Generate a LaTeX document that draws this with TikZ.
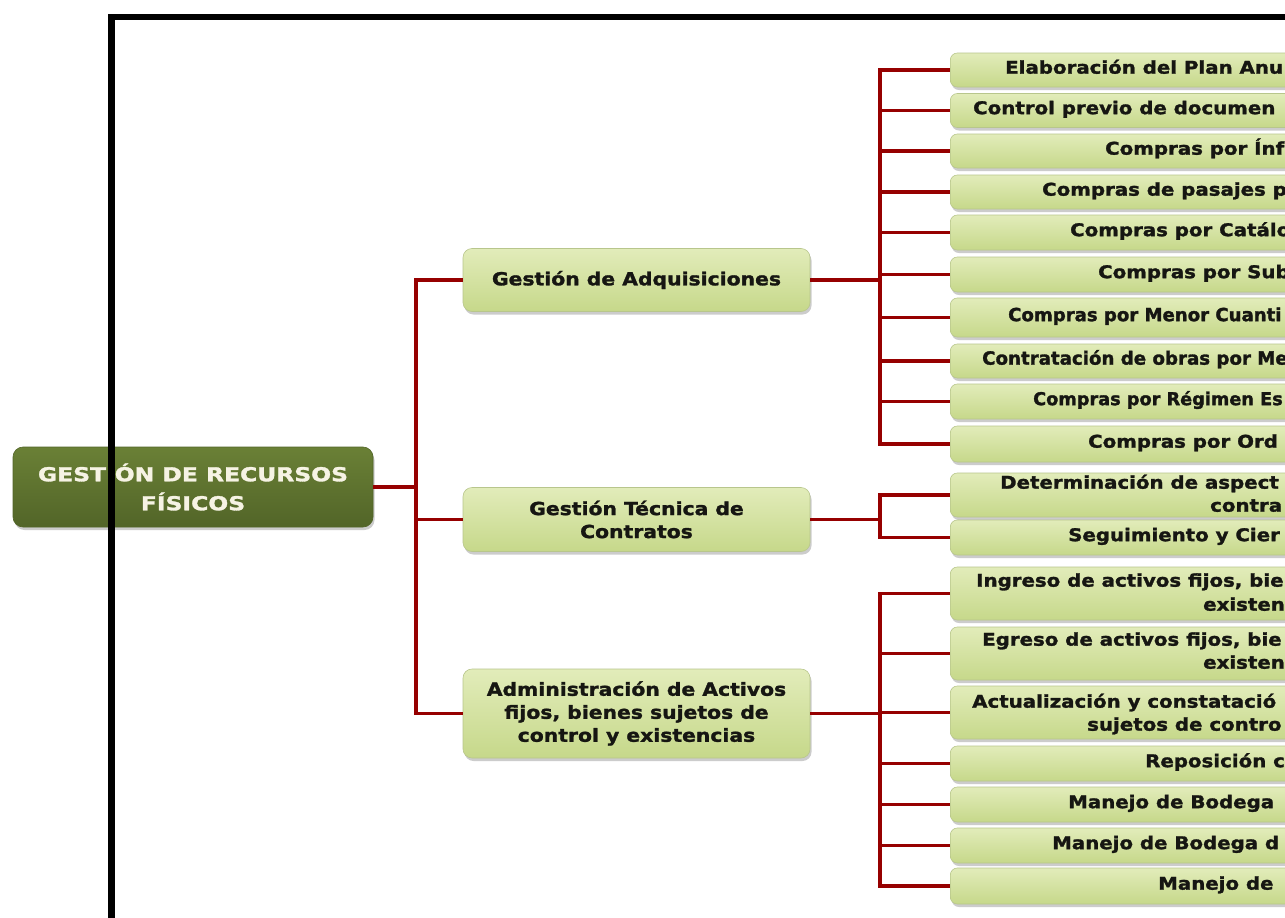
\documentclass[tikz,border=0pt]{standalone}
\usepackage{fontspec}
\setmainfont{DejaVu Sans}[FakeStretch=1.13, BoldFeatures={FakeBold=1.6}]
\newfontfamily\rootfont{DejaVu Sans}[FakeStretch=1.22, BoldFeatures={FakeBold=1.6}]
\newfontfamily\tightfont{DejaVu Sans}[FakeStretch=1.0, BoldFeatures={FakeBold=1.6}]
\usetikzlibrary{shadows}

\definecolor{linkred}{RGB}{150,0,0}
\definecolor{leaftop}{RGB}{226,236,186}
\definecolor{leafbot}{RGB}{198,216,138}
\definecolor{leafedge}{RGB}{184,198,140}
\definecolor{roottop}{RGB}{106,128,54}
\definecolor{rootbot}{RGB}{82,101,40}
\definecolor{rootink}{RGB}{246,243,228}
\definecolor{ink}{RGB}{22,22,18}

\begin{document}
\begin{tikzpicture}[x=1pt,y=-1pt,
  card/.style={rounded corners=7pt, top color=leaftop, bottom color=leafbot,
    draw=leafedge, line width=.6pt, inner sep=0pt,
    drop shadow={shadow xshift=1.5pt, shadow yshift=-3pt, opacity=.4}},
  rootcard/.style={card, rounded corners=10pt, top color=roottop, bottom color=rootbot,
    draw=rootbot, text=rootink, align=center,
    font=\rootfont\fontsize{19.2}{29}\selectfont\bfseries},
  areacard/.style={card, rounded corners=9pt, minimum width=347pt, text=ink,
    align=center, font=\fontsize{18}{23}\selectfont\bfseries},
  leaf/.style={card, anchor=west, minimum width=460pt},
  leaftext/.style={anchor=west, inner sep=0pt, text height=.73em, text depth=0pt,
    text=ink, font=\fontsize{17.5}{23}\selectfont\bfseries},
  tighttext/.style={leaftext, font=\tightfont\fontsize{#1}{23}\selectfont\bfseries},
  link/.style={draw=linkred, line width=3.4pt},
  bus/.style={link, line cap=rect},
  frameline/.style={draw=black, line width=6.5pt, line join=miter}
]
\path[use as bounding box] (0,0) rectangle (1285,918);
\clip (0,0) rectangle (1285,918);
\fill[white] (0,0) rectangle (1285,918);

% ---------- root and the three areas ----------
\node[rootcard, minimum width=360pt, minimum height=80pt] (root) at (193,487)
  {GESTIÓN DE RECURSOS\\FÍSICOS};

\node[areacard, minimum height=63pt] (adq) at (636.5,280) {Gestión de Adquisiciones};
\node[areacard, minimum height=64pt] (tec) at (636.5,519.5) {Gestión Técnica de\\Contratos};
\node[areacard, minimum height=89pt] (act) at (636.5,713.5)
  {Administración de Activos\\fijos, bienes sujetos de\\control y existencias};

% ---------- procedures: Gestión de Adquisiciones ----------
\node[leaf, minimum height=34pt] (k1)  at (950,70)    {};
\node[leaf, minimum height=34pt] (k2)  at (950,110.5) {};
\node[leaf, minimum height=34pt] (k3)  at (950,151)   {};
\node[leaf, minimum height=34pt] (k4)  at (950,192)   {};
\node[leaf, minimum height=35pt] (k5)  at (950,232.5) {};
\node[leaf, minimum height=35pt] (k6)  at (950,274.5) {};
\node[leaf, minimum height=39pt] (k7)  at (950,317.5) {};
\node[leaf, minimum height=34pt] (k8)  at (950,361)   {};
\node[leaf, minimum height=35pt] (k9)  at (950,401.5) {};
\node[leaf, minimum height=36pt] (k10) at (950,444)   {};
% ---------- procedures: Gestión Técnica de Contratos ----------
\node[leaf, minimum height=44pt] (k11) at (950,495)   {};
\node[leaf, minimum height=35pt] (k12) at (950,537.5) {};
% ---------- procedures: Administración de Activos ----------
\node[leaf, minimum height=53pt] (k13) at (950,593.5) {};
\node[leaf, minimum height=53pt] (k14) at (950,653.5) {};
\node[leaf, minimum height=53pt] (k15) at (950,712.5) {};
\node[leaf, minimum height=35pt] (k16) at (950,763.5) {};
\node[leaf, minimum height=35pt] (k17) at (950,804.5) {};
\node[leaf, minimum height=35pt] (k18) at (950,845.5) {};
\node[leaf, minimum height=36pt] (k19) at (950,886)   {};

% ---------- procedure titles ----------
\node[leaftext] (t1)  at (1005,70)    {Elaboración del Plan Anu};
\node[leaftext] (t2)  at (973,110.5)  {Control previo de documen};
\node[leaftext] (t3)  at (1105,151)   {Compras por Ínf};
\node[leaftext] (t4)  at (1042,192)   {Compras de pasajes p};
\node[leaftext] (t5)  at (1070,232.5) {Compras por Catálo};
\node[leaftext] (t6)  at (1098,274.5) {Compras por Sub};
\node[tighttext=18.1] (t7) at (1008,317.5) {Compras por Menor Cuanti};
\node[tighttext=18.2] (t8) at (982,361)    {Contratación de obras por Me};
\node[tighttext=17.7] (t9) at (1033,401.5) {Compras por Régimen Es};
\node[leaftext] (t10) at (1088,444)   {Compras por Ord};
\node[leaftext] (t11a) at (1000,485)  {Determinación de aspect};
\node[leaftext] (t11b) at (1210,508)  {contra};
\node[leaftext] (t12) at (1068,537.5) {Seguimiento y Cier};
\node[leaftext] (t13a) at (976,583)   {Ingreso de activos fijos, bie};
\node[leaftext] (t13b) at (1203,607)  {existen};
\node[leaftext] (t14a) at (982,642)   {Egreso de activos fijos, bie};
\node[leaftext] (t14b) at (1203,665)  {existen};
\node[leaftext] (t15a) at (972,704)   {Actualización y constatació};
\node[leaftext] (t15b) at (1087,727)  {sujetos de contro};
\node[leaftext] (t16) at (1145,763.5) {Reposición c};
\node[leaftext] (t17) at (1068,804.5) {Manejo de Bodega};
\node[leaftext] (t18) at (1052,845.5) {Manejo de Bodega d};
\node[leaftext] (t19) at (1158,886)   {Manejo de};

% ---------- connectors ----------
\coordinate (j0) at (416,487);
\coordinate (jA) at (880,280);
\coordinate (jB) at (880,519.5);
\coordinate (jC) at (880,713.5);

\draw[link] (root.east) -- (j0);
\draw[bus] (j0 |- adq.west) -- (j0 |- act.west);
\foreach \a in {adq,tec,act} \draw[link] (j0 |- \a.west) -- (\a.west);

\draw[link] (adq.east) -- (jA);
\draw[bus] (jA |- k1.west) -- (jA |- k10.west);
\foreach \k in {k1,k2,k3,k4,k5,k6,k7,k8,k9,k10} \draw[link] (jA |- \k.west) -- (\k.west);

\draw[link] (tec.east) -- (jB);
\draw[bus] (jB |- k11.west) -- (jB |- k12.west);
\foreach \k in {k11,k12} \draw[link] (jB |- \k.west) -- (\k.west);

\draw[link] (act.east) -- (jC);
\draw[bus] (jC |- k13.west) -- (jC |- k19.west);
\foreach \k in {k13,k14,k15,k16,k17,k18,k19} \draw[link] (jC |- \k.west) -- (\k.west);

% ---------- page frame ----------
\draw[frameline] (1300,17) -- (111.5,17) -- (111.5,935);
\end{tikzpicture}
\end{document}
